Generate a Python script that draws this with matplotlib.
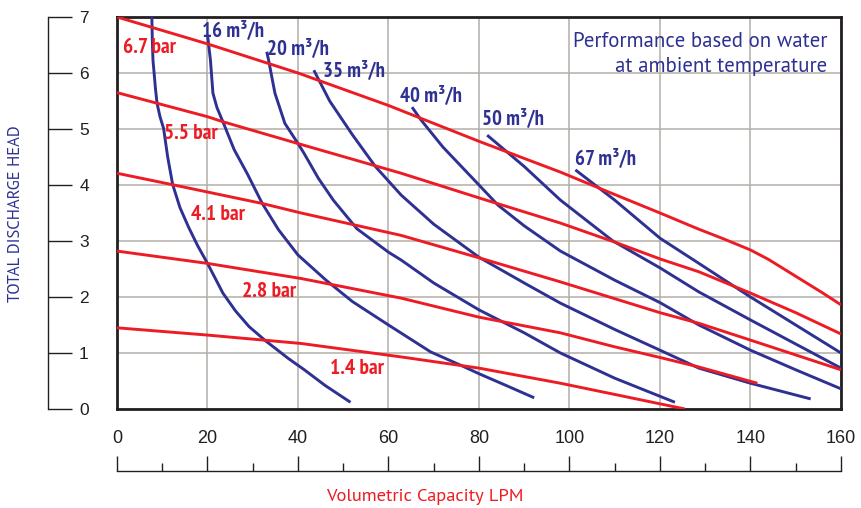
import matplotlib
matplotlib.use("Agg")
import matplotlib.pyplot as plt
from matplotlib import font_manager
from matplotlib.ticker import MultipleLocator

# ---------------- data ----------------
x_ticks = [0, 20, 40, 60, 80, 100, 120, 140, 160]
y_ticks = [0, 1, 2, 3, 4, 5, 6, 7]

# pressure lines (bar)
bar_67_x = [0, 20, 40, 60, 80, 98, 110, 120, 128.6, 134, 140, 144, 148, 152, 156, 160]
bar_67_y = [7.0, 6.52, 6.0, 5.42, 4.78, 4.23, 3.83, 3.5, 3.21, 3.04, 2.84, 2.67, 2.47, 2.27, 2.07, 1.86]
bar_55_x = [0, 20, 23.4, 40, 62.8, 80, 98, 110, 120, 128.6, 140, 150, 160]
bar_55_y = [5.65, 5.22, 5.13, 4.74, 4.21, 3.77, 3.32, 2.98, 2.68, 2.45, 2.07, 1.72, 1.34]
bar_41_x = [0, 12.6, 32.1, 40.7, 62.8, 80, 98, 110, 120, 128.6, 140, 160]
bar_41_y = [4.21, 4.0, 3.67, 3.5, 3.1, 2.7, 2.27, 1.97, 1.72, 1.53, 1.23, 0.70]
bar_28_x = [0, 20, 40.7, 62.8, 80, 98, 110, 120, 128.6, 141.5]
bar_28_y = [2.82, 2.6, 2.33, 1.98, 1.64, 1.36, 1.11, 0.92, 0.75, 0.46]
bar_14_x = [0, 20, 40.7, 62.8, 80, 98, 110, 125.5]
bar_14_y = [1.45, 1.32, 1.17, 0.93, 0.73, 0.46, 0.26, 0.0]

# flow lines (m3/h)
q_a_x = [7.7, 7.8, 7.95, 8.2, 8.5, 8.85, 9.5, 10.3, 11.2, 12.3, 13.9, 15.8, 17.8, 20, 23.4, 26.2,
         29.2, 32.8, 37.9, 41.4, 46, 51.6]
q_a_y = [7.0, 6.6, 6.23, 6.0, 5.72, 5.46, 5.22, 5.01, 4.5, 4.01, 3.6, 3.25, 2.92, 2.6, 2.07, 1.75,
         1.47, 1.22, 0.9, 0.70, 0.42, 0.12]
q_16_x = [20, 20.65, 21.2, 22.1, 23.4, 25.9, 28.8, 32.1, 35.7, 40, 46.2, 52, 60, 69.3, 76, 80, 86, 92.2]
q_16_y = [6.68, 6.23, 5.64, 5.38, 5.13, 4.63, 4.2, 3.67, 3.2, 2.75, 2.3, 1.92, 1.5, 1.02, 0.78, 0.63, 0.42, 0.2]
q_20_x = [33.1, 33.5, 34.9, 37.1, 40, 41.3, 44.5, 47.8, 53, 60, 62.8, 70, 80, 90, 98, 110, 123.3]
q_20_y = [6.38, 6.23, 5.64, 5.10, 4.74, 4.57, 4.12, 3.73, 3.22, 2.8, 2.66, 2.25, 1.77, 1.36, 1.0, 0.55, 0.12]
q_35_x = [43.5, 47, 52, 57.1, 62.8, 70, 80, 90, 98, 110, 120, 128.6, 140, 153.3]
q_35_y = [6.05, 5.5, 4.9, 4.33, 3.82, 3.3, 2.71, 2.25, 1.89, 1.42, 1.05, 0.73, 0.46, 0.18]
q_40_x = [65.2, 67.2, 72, 80, 84.2, 90, 98, 110, 120, 128.6, 140, 150, 160]
q_40_y = [5.39, 5.16, 4.68, 4.0, 3.64, 3.27, 2.82, 2.3, 1.9, 1.5, 1.05, 0.7, 0.36]
q_50_x = [81.8, 90, 98, 109.6, 120, 128.6, 140, 150, 160]
q_50_y = [4.89, 4.33, 3.73, 3.0, 2.52, 2.09, 1.59, 1.16, 0.73]
q_67_x = [101.3, 110, 120, 128.6, 140, 150, 160]
q_67_y = [4.27, 3.73, 3.05, 2.6, 2.0, 1.5, 1.0]

bar_labels = ["6.7 bar", "5.5 bar", "4.1 bar", "2.8 bar", "1.4 bar"]
bar_label_x = [1.3, 10.3, 16.3, 27.6, 47.1]
bar_label_y = [6.36, 4.83, 3.38, 2.0, 0.63]
flow_labels = ["16 m\u00b3/h", "20 m\u00b3/h", "35 m\u00b3/h", "40 m\u00b3/h", "50 m\u00b3/h", "67 m\u00b3/h"]
flow_label_x = [18.8, 33.1, 45.5, 62.5, 80.7, 101.2]
flow_label_y = [6.65, 6.32, 5.92, 5.48, 5.07, 4.36]

# ---------------- style ----------------
RED = "#ed1c24"
BLUE = "#2e3192"
GRID = "#b3ada7"
DARK = "#231f20"

names = {f.name for f in font_manager.fontManager.ttflist}


def pick(*cands):
    return [c for c in cands if c in names] + ["DejaVu Sans"]


SANS = pick("Liberation Sans")
HUMAN = pick("PT Sans", "Liberation Sans")
COND = pick("PT Sans Narrow", "Roboto Condensed", "Liberation Sans")

plt.rcParams["font.family"] = SANS

W, H = 862, 508
fig = plt.figure(figsize=(W / 100, H / 100), dpi=100)

L, R, T, B = 117, 841, 17, 409
ax = fig.add_axes([L / W, 1 - B / H, (R - L) / W, (B - T) / H])
ax.set_xlim(0, 160)
ax.set_ylim(0, 7)
ax.set_xticks(x_ticks)
ax.set_yticks(y_ticks)
ax.grid(True, color=GRID, lw=1.1, zorder=0)
ax.set_axisbelow(True)
for s in ax.spines.values():
    s.set_color(DARK)
    s.set_linewidth(2.0)
ax.tick_params(axis="y", length=0, labelleft=False)
ax.tick_params(axis="x", length=0, pad=15, labelsize=13, colors=DARK)

for xs, ys in [(q_a_x, q_a_y), (q_16_x, q_16_y), (q_20_x, q_20_y), (q_35_x, q_35_y),
               (q_40_x, q_40_y), (q_50_x, q_50_y), (q_67_x, q_67_y)]:
    ax.plot(xs, ys, color=BLUE, lw=2.1, zorder=3, solid_capstyle="butt",
            solid_joinstyle="round")
for xs, ys in [(bar_67_x, bar_67_y), (bar_55_x, bar_55_y), (bar_41_x, bar_41_y),
               (bar_28_x, bar_28_y), (bar_14_x, bar_14_y)]:
    ax.plot(xs, ys, color=RED, lw=2.1, zorder=4, solid_capstyle="butt",
            solid_joinstyle="round")

for t, x, y in zip(bar_labels, bar_label_x, bar_label_y):
    ax.text(x, y, t, color=RED, fontsize=15.5, family=COND, weight="bold",
            ha="left", va="baseline", zorder=5)
for t, x, y in zip(flow_labels, flow_label_x, flow_label_y):
    ax.text(x, y, t, color=BLUE, fontsize=15, family=COND, weight="bold",
            ha="left", va="baseline", zorder=5)

fig.text(827 / W, 1 - 46.7 / H, "Performance based on water", color=BLUE,
         fontsize=15, family=HUMAN, ha="right", va="baseline")
fig.text(827 / W, 1 - 71.7 / H, "at ambient temperature", color=BLUE,
         fontsize=15, family=HUMAN, ha="right", va="baseline")

# separate y bracket axis
ay = fig.add_axes([48 / W, 1 - B / H, (L - 48) / W, (B - T) / H])
ay.set_ylim(0, 7)
ay.set_yticks(y_ticks)
ay.patch.set_visible(False)
for k in ["top", "right", "bottom"]:
    ay.spines[k].set_visible(False)
ay.spines["left"].set_color(DARK)
ay.spines["left"].set_linewidth(1.0)
ay.set_xticks([])
ay.tick_params(axis="y", direction="in", length=17.3, width=1.0, color=DARK,
               pad=-25.9, labelsize=12.5, labelcolor=DARK)
for lbl in ay.get_yticklabels():
    lbl.set_horizontalalignment("center")

# separate x bracket axis
axb = fig.add_axes([L / W, 1 - 471 / H, (R - L) / W, 0.02])
axb.set_xlim(0, 160)
axb.patch.set_visible(False)
for k in ["top", "right", "left"]:
    axb.spines[k].set_visible(False)
axb.spines["bottom"].set_color(DARK)
axb.spines["bottom"].set_linewidth(1.0)
axb.set_yticks([])
axb.xaxis.set_major_locator(MultipleLocator(20))
axb.xaxis.set_minor_locator(MultipleLocator(10))
axb.tick_params(axis="x", which="major", direction="in", length=10.8, width=1.0,
                color=DARK, labelbottom=False)
axb.tick_params(axis="x", which="minor", direction="in", length=5.8, width=1.0,
                color=DARK, labelbottom=False)

fig.text(16 / W, 1 - 214 / H, "TOTAL DISCHARGE HEAD", rotation=90, color=BLUE,
         fontsize=12, family=HUMAN, ha="center", va="center")
fig.text(425 / W, 1 - 497 / H, "Volumetric Capacity LPM", color=RED,
         fontsize=13.3, family=HUMAN, ha="center", va="center")

fig.savefig("out.png", dpi=100)
